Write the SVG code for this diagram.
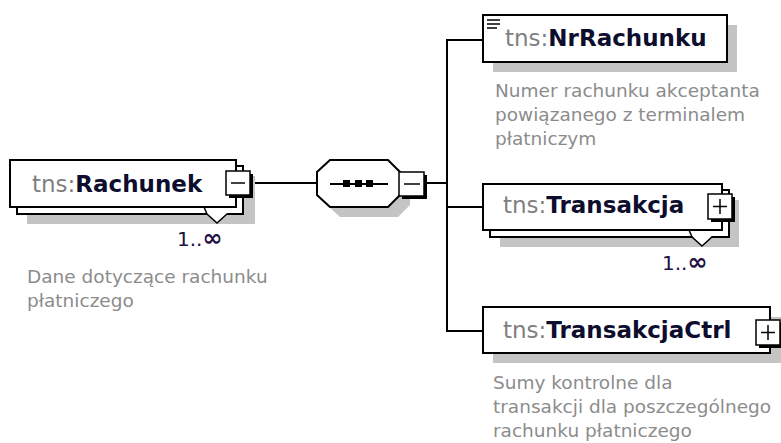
<svg xmlns="http://www.w3.org/2000/svg" width="781" height="443" viewBox="0 0 781 443">
<style>
.bg{fill:#ffffff}
.shadow{fill:#c4c4c4}
.box{fill:#ffffff;stroke:#000000;stroke-width:2}
.btn{fill:#ffffff;stroke:#000000;stroke-width:1.5}
.btnsh{fill:#000000}
.ln{stroke:#000000;stroke-width:2;fill:none}
.thin{stroke:#000000;stroke-width:1.5;fill:none}
.name{font-family:"DejaVu Sans",Verdana,sans-serif;font-size:23px}
.pre{fill:#7f7f7f}
.nm{fill:#0d0d2e;font-weight:bold}
.desc{font-family:"DejaVu Sans",Verdana,sans-serif;font-size:18.5px;fill:#8c8c8c}
.mult{font-family:"DejaVu Sans",Verdana,sans-serif;font-size:20px;fill:#221144}
.inf{font-size:24px;font-weight:bold}
</style>
<rect class="bg" x="0" y="0" width="781" height="443"/>

<g id="connectors">
  <line class="ln" x1="253" y1="183" x2="317" y2="183"/>
  <line class="ln" x1="427" y1="183" x2="448" y2="183"/>
  <line class="ln" x1="447" y1="39" x2="447" y2="332"/>
  <line class="ln" x1="446" y1="40" x2="483" y2="40"/>
  <line class="ln" x1="446" y1="207" x2="483" y2="207"/>
  <line class="ln" x1="446" y1="331" x2="483" y2="331"/>
</g>

<g id="node-Rachunek">
  <rect class="shadow" x="27" y="176" width="228" height="48"/>
  <rect class="box" x="17" y="166" width="226" height="48"/>
  <rect class="box" x="10" y="160" width="226" height="47"/>
  <polygon points="206,213 217,223 228,213" fill="#ffffff" stroke="none"/>
  <polyline class="thin" points="204,207 207,214 217,223 227,214 243,214"/>
  <rect class="btnsh" x="229" y="174" width="24" height="24"/>
  <rect class="btn" x="226" y="171" width="24" height="24"/>
  <line class="thin" x1="231" y1="183" x2="245" y2="183"/>
  <text class="name" x="32" y="192"><tspan class="pre">tns:</tspan><tspan class="nm">Rachunek</tspan></text>
  <text class="mult" x="177" y="246">1..<tspan class="inf">∞</tspan></text>
  <text class="desc" x="27" y="283">Dane dotyczące rachunku</text>
  <text class="desc" x="27" y="307">płatniczego</text>
</g>

<g id="node-sequence">
  <polygon class="shadow" points="340,170 398,170 410,182 410,205 398,217 340,217 327,205 327,182"/>
  <polygon class="box" points="330,160 388,160 400,172 400,195 388,207 330,207 317,195 317,172"/>
  <line class="ln" x1="330" y1="184" x2="388" y2="184"/>
  <rect x="343" y="180" width="7" height="7" fill="#000000"/>
  <rect x="355" y="180" width="7" height="7" fill="#000000"/>
  <rect x="366" y="180" width="7" height="7" fill="#000000"/>
  <rect class="btnsh" x="402" y="175" width="25" height="24"/>
  <rect class="btn" x="399" y="172" width="25" height="24"/>
  <line class="thin" x1="404" y1="184" x2="420" y2="184"/>
</g>

<g id="node-NrRachunku">
  <rect class="shadow" x="493" y="25" width="244" height="47"/>
  <rect class="box" x="483" y="15" width="244" height="47"/>
  <line class="thin" x1="487" y1="20" x2="500" y2="20"/>
  <line class="thin" x1="487" y1="24" x2="500" y2="24"/>
  <line class="thin" x1="487" y1="28" x2="497" y2="28"/>
  <text class="name" x="505" y="46"><tspan class="pre">tns:</tspan><tspan class="nm">NrRachunku</tspan></text>
  <text class="desc" x="495" y="97">Numer rachunku akceptanta</text>
  <text class="desc" x="495" y="121">powiązanego z terminalem</text>
  <text class="desc" x="495" y="145">płatniczym</text>
</g>

<g id="node-Transakcja">
  <rect class="shadow" x="500" y="200" width="239" height="47"/>
  <rect class="box" x="490" y="190" width="239" height="47"/>
  <rect class="box" x="483" y="184" width="239" height="46"/>
  <polygon points="692,236 702,246 712,236" fill="#ffffff" stroke="none"/>
  <polyline class="thin" points="689,230 692,237 702,246 712,237 729,237"/>
  <rect class="btnsh" x="711" y="197" width="24" height="25"/>
  <rect class="btn" x="708" y="194" width="24" height="25"/>
  <line class="thin" x1="713" y1="206.5" x2="727" y2="206.5"/>
  <line class="thin" x1="720" y1="199" x2="720" y2="214"/>
  <text class="name" x="503" y="213"><tspan class="pre">tns:</tspan><tspan class="nm">Transakcja</tspan></text>
  <text class="mult" x="662" y="270">1..<tspan class="inf">∞</tspan></text>
</g>

<g id="node-TransakcjaCtrl">
  <rect class="shadow" x="493" y="317" width="290" height="46"/>
  <rect class="box" x="483" y="307" width="287" height="46"/>
  <rect class="btnsh" x="759" y="323" width="24" height="25"/>
  <rect class="btn" x="756" y="320" width="24" height="25"/>
  <line class="thin" x1="761" y1="332.5" x2="775" y2="332.5"/>
  <line class="thin" x1="768" y1="325" x2="768" y2="340"/>
  <text class="name" x="503" y="338"><tspan class="pre">tns:</tspan><tspan class="nm">TransakcjaCtrl</tspan></text>
  <text class="desc" x="493" y="389">Sumy kontrolne dla</text>
  <text class="desc" x="493" y="413">transakcji dla poszczególnego</text>
  <text class="desc" x="493" y="437">rachunku płatniczego</text>
</g>
</svg>
